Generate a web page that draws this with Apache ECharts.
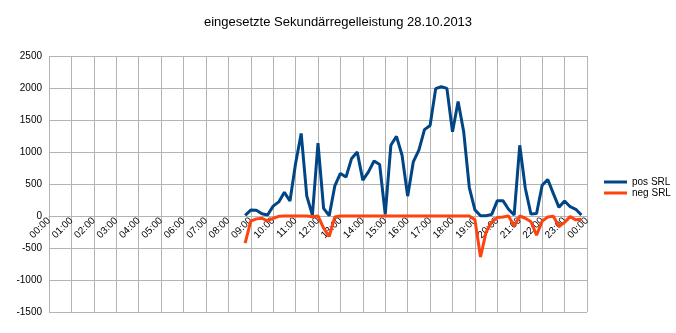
<!DOCTYPE html>
<html>
<head>
<meta charset="utf-8">
<script src="https://cdn.jsdelivr.net/npm/echarts@6/dist/echarts.min.js"></script>
<style>html,body{margin:0;padding:0;background:#fff;}#c{width:676px;height:333px;}</style>
</head>
<body>
<div id="c"></div>
<script>
const times = [
"00:00","00:15","00:30","00:45","01:00","01:15","01:30","01:45",
"02:00","02:15","02:30","02:45","03:00","03:15","03:30","03:45",
"04:00","04:15","04:30","04:45","05:00","05:15","05:30","05:45",
"06:00","06:15","06:30","06:45","07:00","07:15","07:30","07:45",
"08:00","08:15","08:30","08:45","09:00","09:15","09:30","09:45",
"10:00","10:15","10:30","10:45","11:00","11:15","11:30","11:45",
"12:00","12:15","12:30","12:45","13:00","13:15","13:30","13:45",
"14:00","14:15","14:30","14:45","15:00","15:15","15:30","15:45",
"16:00","16:15","16:30","16:45","17:00","17:15","17:30","17:45",
"18:00","18:15","18:30","18:45","19:00","19:15","19:30","19:45",
"20:00","20:15","20:30","20:45","21:00","21:15","21:30","21:45",
"22:00","22:15","22:30","22:45","23:00","23:15","23:30","23:45",
"00:00 "
];
const dataStart = 35; // first value at 08:45
const posSRL = [
10, 93, 90, 35, 15, 155, 220, 370, 235, 820, 1290, 310, 15, 1140, 120, 5,
470, 665, 610, 900, 1000, 560, 690, 860, 805, 25, 1105, 1245, 950, 310, 845, 1030,
1350, 1415, 1990, 2020, 1995, 1315, 1790, 1315, 445, 95, 5, 5, 25, 240, 240, 105,
15, 1105, 430, 30, 40, 480, 570, 350, 135, 235, 145, 105, 15
];
const negSRL = [
-425, -80, -45, -35, -75, -35, -5, 0, 0, 0, 0, 0, -10, 0, -190, -320,
-15, 0, 0, 0, 0, 0, 0, 0, 0, 0, 0, 0, 0, 0, 0, 0,
0, 0, 0, 0, 0, 0, 0, 0, 0, -60, -640, -250, -95, -25, -15, 0,
-155, 0, -35, -90, -300, -80, -15, -5, -165, -100, -10, -60, -50
];
const seriesNames = ["pos SRL", "neg SRL"];
const yTicks = {min: -1500, max: 2500, step: 500};

function pad(arr) {
  const out = times.map(() => null);
  arr.forEach((v, i) => { out[dataStart + i] = v; });
  return out;
}

const gridTop = 56, gridBottom = 21, H = 333;
const plotH = H - gridTop - gridBottom;
const zeroShift = plotH * (0 - yTicks.min) / (yTicks.max - yTicks.min);

const chart = echarts.init(document.getElementById('c'), null, {renderer: 'canvas'});
const font = '"Liberation Sans", Arial, sans-serif';
chart.setOption({
  animation: false,
  backgroundColor: '#fff',
  textStyle: {fontFamily: font},
  title: {
    text: 'eingesetzte Sekundärregelleistung 28.10.2013',
    left: 'center', top: 11,
    textStyle: {fontSize: 13, fontWeight: 'normal', color: '#000', fontFamily: font}
  },
  legend: {
    orient: 'vertical', left: 599, top: 172,
    itemWidth: 23, itemHeight: 3, itemGap: 1,
    icon: 'rect',
    textStyle: {fontSize: 10, color: '#000', fontFamily: font},
    data: seriesNames
  },
  grid: {left: 49, right: 89, top: gridTop, bottom: gridBottom, containLabel: false, outerBoundsMode: 'none'},
  xAxis: {
    type: 'category', data: times, boundaryGap: false,
    position: 'bottom', offset: -zeroShift,
    axisLine: {show: true, onZero: false, lineStyle: {color: '#b3b3b3', width: 1}},
    axisTick: {show: false},
    axisLabel: {
      interval: (i) => i % 4 === 0, rotate: 45, fontSize: 10, color: '#000',
      fontFamily: font, margin: 3,
      formatter: (v) => v.trim()
    },
    splitLine: {show: true, interval: (i) => i % 4 === 0, lineStyle: {color: '#b3b3b3', width: 1}}
  },
  yAxis: {
    type: 'value', min: yTicks.min, max: yTicks.max, interval: yTicks.step,
    axisLine: {show: false},
    axisTick: {show: false},
    axisLabel: {fontSize: 10, color: '#000', fontFamily: font, margin: 7, formatter: (v) => String(v)},
    splitLine: {show: true, lineStyle: {color: '#b3b3b3', width: 1}}
  },
  series: [
    {name: seriesNames[0], type: 'line', data: pad(posSRL), symbol: 'none',
     lineStyle: {color: '#004586', width: 3}, itemStyle: {color: '#004586'}, z: 3},
    {name: seriesNames[1], type: 'line', data: pad(negSRL), symbol: 'none',
     lineStyle: {color: '#ff420e', width: 3}, itemStyle: {color: '#ff420e'}, z: 4}
  ]
});
</script>
</body>
</html>
